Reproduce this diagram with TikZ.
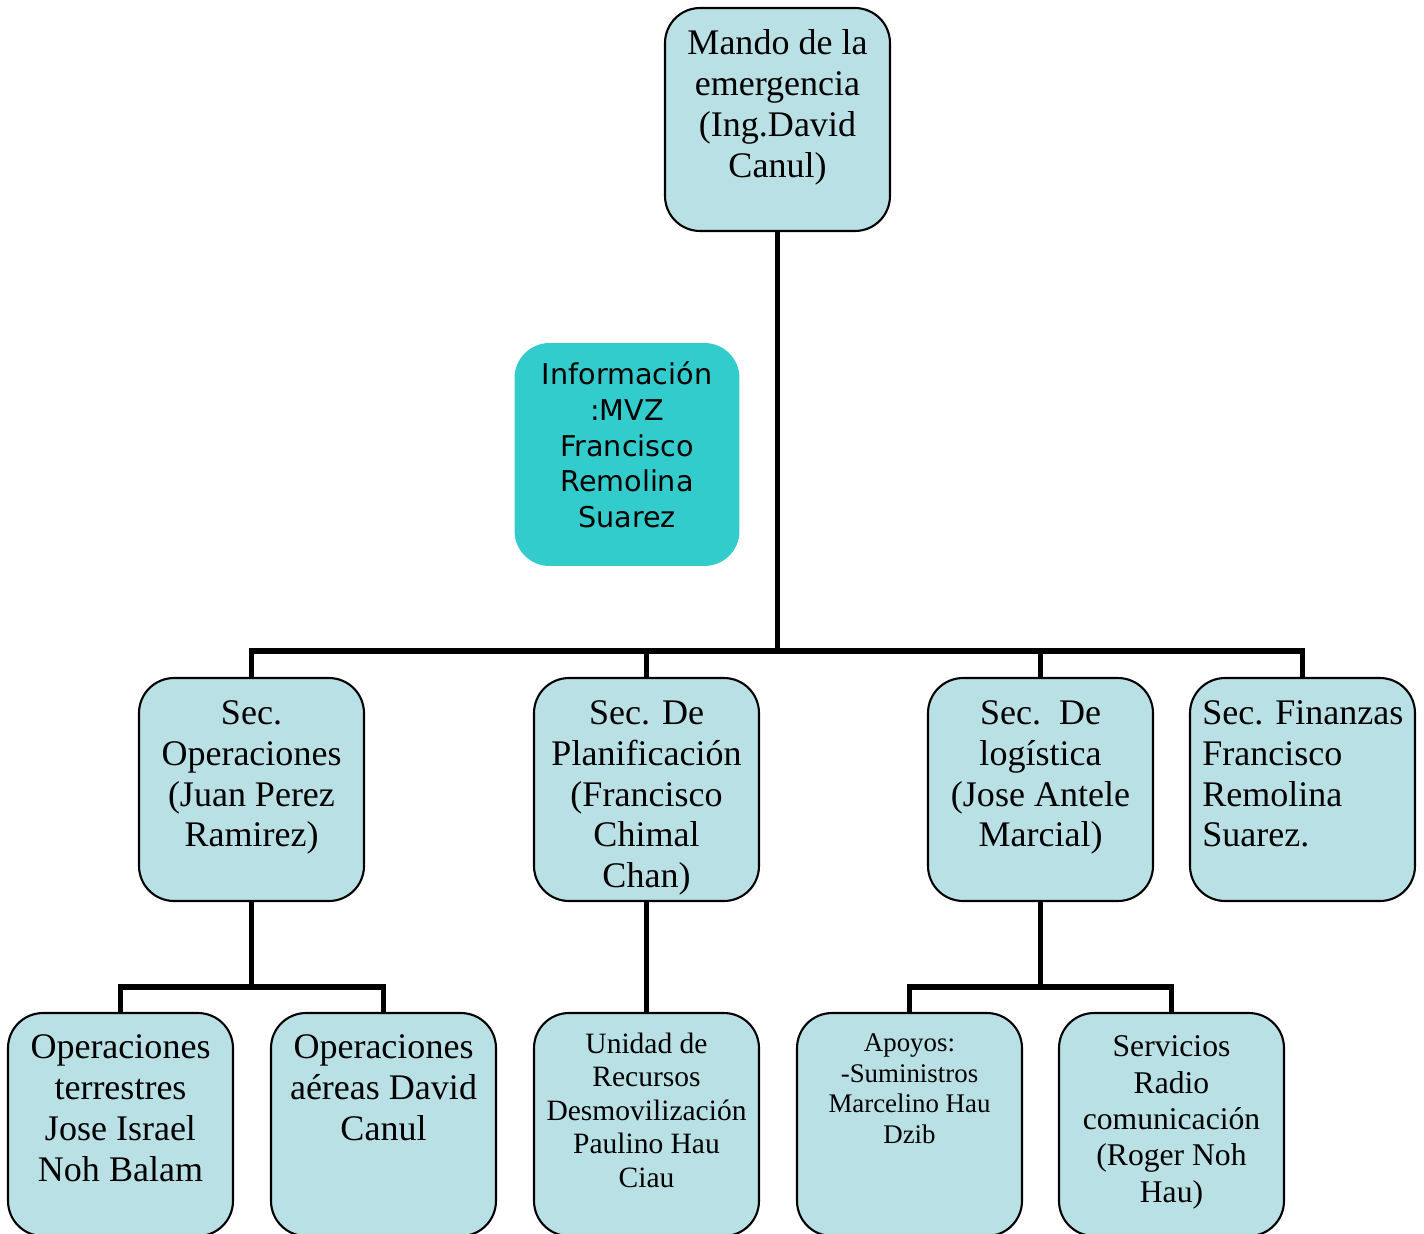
\documentclass[tikz,border=0pt]{standalone}
\usepackage{fontspec}
\setmainfont{Liberation Serif}
\newfontfamily\infofont{DejaVu Sans}
\definecolor{cajacolor}{RGB}{185,224,229}
\definecolor{infocolor}{RGB}{51,204,204}

\begin{document}
\begin{tikzpicture}[x=0.02cm,y=-0.02cm]
    \clip (0,0) rectangle (1424,1234);
    \begin{scope}[every node/.style={rectangle,rounded corners=0.7cm,draw=black,line width=1.2pt,
        fill=cajacolor,minimum width=4.5cm,minimum height=4.46cm,inner sep=0pt}]
        \node (mando) at (777.5,119.5) {};
        \node[draw=none,fill=infocolor] (info) at (627,454.5) {};
        \node (ops) at (251.5,789.5) {};
        \node (plan) at (646.5,789.5) {};
        \node (log) at (1040.5,789.5) {};
        \node (fin) at (1302.5,789.5) {};
        \node (terr) at (120.5,1124.5) {};
        \node (aer) at (383.5,1124.5) {};
        \node (unid) at (646.5,1124.5) {};
        \node (apoy) at (909.5,1124.5) {};
        \node (serv) at (1171.5,1124.5) {};
    \end{scope}
    \begin{scope}[every node/.style={align=center,inner sep=0pt,anchor=north,
        font=\fontsize{20.5}{23.3}\selectfont,execute at begin node=\strut}]
        \node (mandotxt) at ([yshift=-0.45cm]mando.north) {Mando de la\\emergencia\\(Ing.David\\Canul)};
        \node[font=\infofont\fontsize{16.3}{20.3}\selectfont] (infotxt) at ([yshift=-0.39cm]info.north)
            {Información\\:MVZ\\Francisco\\Remolina\\Suarez};
        \node (opstxt) at ([yshift=-0.46cm]ops.north) {Sec.\\Operaciones\\(Juan Perez\\Ramirez)};
        \node (plantxt) at ([yshift=-0.46cm]plan.north) {Sec. De\\Planificación\\(Francisco\\Chimal\\Chan)};
        \node (logtxt) at ([yshift=-0.46cm]log.north) {Sec.\ \ De\\logística\\(Jose Antele\\Marcial)};
        \node[anchor=north west,align=left] (fintxt) at ([xshift=0.26cm,yshift=-0.46cm]fin.north west)
            {Sec. Finanzas\\Francisco\\Remolina\\Suarez.};
        \node (terrtxt) at ([yshift=-0.45cm]terr.north) {Operaciones\\terrestres\\Jose Israel\\Noh Balam};
        \node (aertxt) at ([yshift=-0.45cm]aer.north) {Operaciones\\aéreas David\\Canul};
        \node[font=\fontsize{16.8}{19.1}\selectfont] (unidtxt) at ([yshift=-0.41cm]unid.north)
            {Unidad de\\Recursos\\Desmovilización\\Paulino Hau\\Ciau};
        \node[font=\fontsize{15.3}{17.4}\selectfont] (apoytxt) at ([yshift=-0.43cm]apoy.north)
            {Apoyos:\\-Suministros\\Marcelino Hau\\Dzib};
        \node[font=\fontsize{18}{20.7}\selectfont] (servtxt) at ([yshift=-0.47cm]serv.north)
            {Servicios\\Radio\\comunicación\\(Roger Noh\\Hau)};
    \end{scope}
    \begin{scope}[line width=0.11cm]
        \coordinate (bus) at (777.5,651);
        \coordinate (opsbus) at (251.5,987);
        \coordinate (logbus) at (1040.5,987);
        % mando to the sections
        \draw (mando.south) -- (bus);
        \draw (ops.north) |- (bus) -| (fin.north);
        \draw (plan.north) -- (plan.north |- bus);
        \draw (log.north) -- (log.north |- bus);
        % sections to the units
        \draw (ops.south) -- (opsbus);
        \draw (terr.north) |- (opsbus) -| (aer.north);
        \draw (plan.south) -- (unid.north);
        \draw (log.south) -- (logbus);
        \draw (apoy.north) |- (logbus) -| (serv.north);
    \end{scope}
\end{tikzpicture}
\end{document}
